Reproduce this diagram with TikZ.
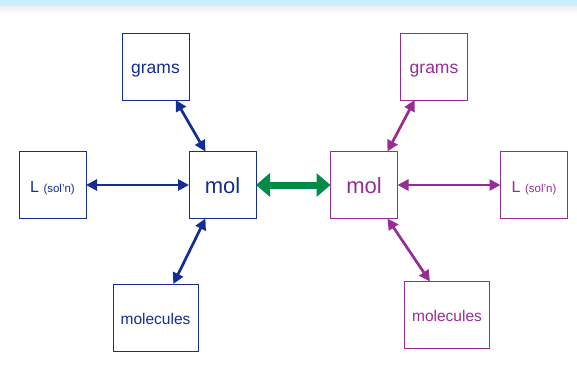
\documentclass[tikz,border=0pt]{standalone}
\usepackage{fontspec}
\setmainfont{Liberation Sans}
\usetikzlibrary{arrows.meta}

\definecolor{molblue}{RGB}{20,45,150}
\definecolor{molpurple}{RGB}{150,45,150}
\definecolor{molgreen}{RGB}{0,140,70}
\definecolor{barblue}{RGB}{204,238,255}

\tikzset{
  qbox/.style={draw=#1, text=#1, line width=1pt, fill=white, minimum width=67pt, minimum height=67pt,
    inner sep=0pt, outer sep=0pt, text height=14pt, text depth=0pt},
  wbox/.style={qbox=#1, minimum width=85pt, text height=13pt},
  conv/.style={draw=#1, fill=#1, line width=2.7pt, {Triangle[length=11pt,width=11pt]}-{Triangle[length=11pt,width=11pt]}},
  link/.style={line width=7pt, draw=molgreen, fill=molgreen, {Triangle[length=14pt,width=23pt]}-{Triangle[length=14pt,width=23pt]}}
}

\begin{document}
\begin{tikzpicture}[x=1pt, y=-1pt]
        \useasboundingbox (0,0) rectangle (577,375);
        % strip across the top
        \fill[barblue] (0,0) rectangle (577,6);
        \shade[top color=black!7, bottom color=white] (0,6) rectangle (577,14);

        % left-hand set
        \node[qbox=molblue] (gramsL) at (155.5,66.5) {\fontsize{17.5}{20}\selectfont grams};
        \node[qbox=molblue] (solnL) at (52.5,185) {\fontsize{16}{19}\selectfont L {\fontsize{11.5}{13}\selectfont (sol'n)}};
        \node[qbox=molblue, text height=16pt] (molL) at (222.5,185) {\fontsize{22}{26}\selectfont mol};
        \node[wbox=molblue] (moleculesL) at (155.5,317.5) {\fontsize{15.5}{18}\selectfont molecules};
        \draw[conv=molblue] (gramsL.-59) -- (molL.117);
        \draw[conv=molblue] (solnL.east) -- (molL.west);
        \draw[conv=molblue] (moleculesL.62) -- (molL.243);

        % right-hand set
        \node[qbox=molpurple, text height=16pt] (molR) at (364,185) {\fontsize{22}{26}\selectfont mol};
        \node[qbox=molpurple] (gramsR) at (434,66.5) {\fontsize{17.5}{20}\selectfont grams};
        \node[qbox=molpurple] (solnR) at (534,185) {\fontsize{16}{19}\selectfont L {\fontsize{11.5}{13}\selectfont (sol'n)}};
        \node[wbox=molpurple] (moleculesR) at (447,315) {\fontsize{15.5}{18}\selectfont molecules};
        \draw[conv=molpurple] (molR.55) -- (gramsR.240);
        \draw[conv=molpurple] (molR.east) -- (solnR.west);
        \draw[conv=molpurple] (molR.-55) -- (moleculesR.117);

        % between the two
        \draw[link] (molL.east) -- (molR.west);
    \end{tikzpicture}
\end{document}
